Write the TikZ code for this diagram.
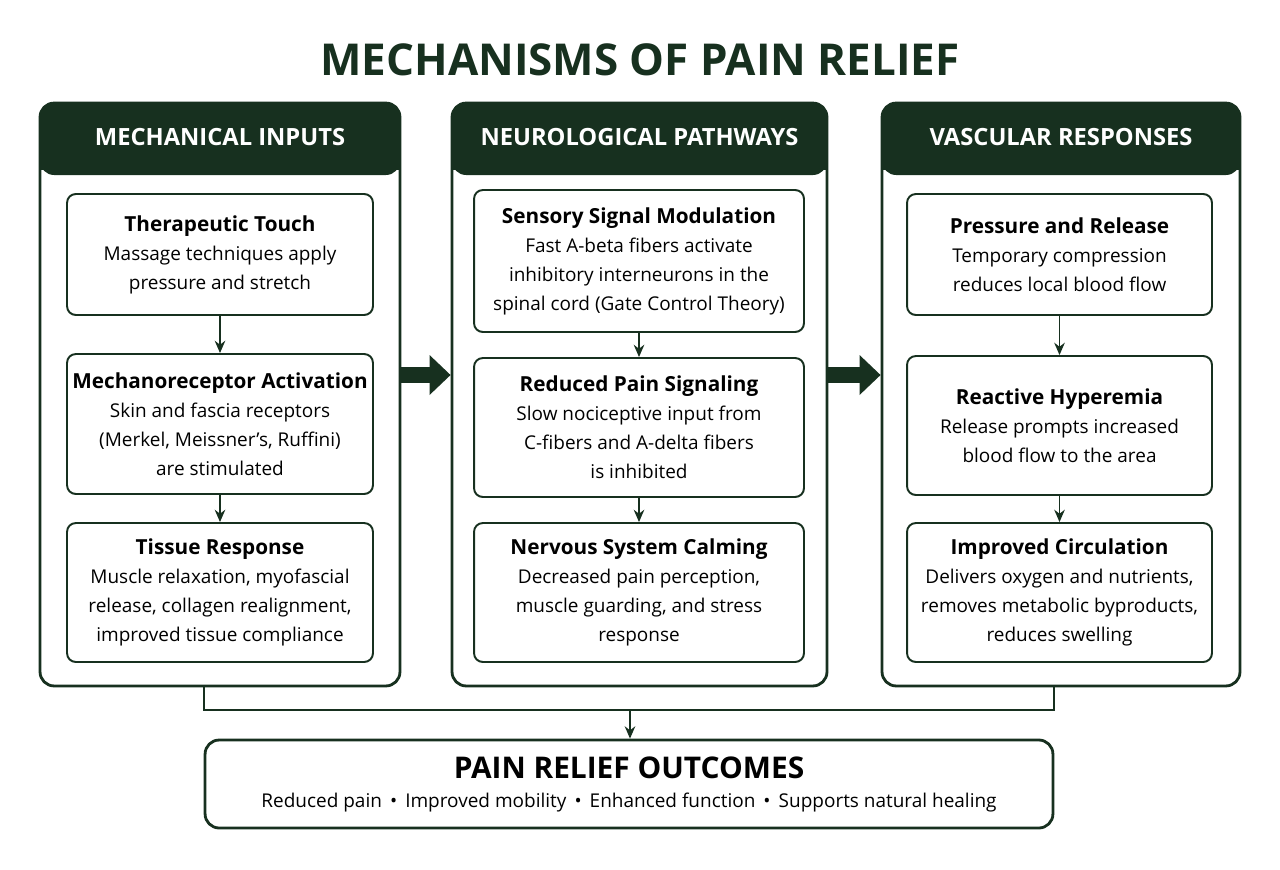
\documentclass[tikz,border=0pt]{standalone}
\usepackage{fontspec}
\setmainfont{Open Sans}
\usetikzlibrary{arrows.meta}
\definecolor{dkgreen}{HTML}{17301F}
\tikzset{
	panel/.style={draw=dkgreen, line width=1.6pt, rounded corners=8pt, inner sep=0pt},
	card/.style={draw=dkgreen, line width=1.1pt, rounded corners=5pt, align=center, font=\fontsize{10.8}{16.5}\selectfont, inner sep=0pt},
	head/.style={text=white, font=\fontsize{13.5}{16}\selectfont\bfseries},
	link/.style={draw=dkgreen, line width=1.1pt, -{Stealth[length=7pt,width=6pt]}},
	bigarrow/.style={draw=dkgreen, line width=9pt, -{Triangle[length=12pt,width=22pt]}}
}
\newcommand{\cardtitle}[1]{{\fontsize{11.8}{18}\selectfont\bfseries #1}\\}
\begin{document}
\begin{tikzpicture}[x=0.02cm, y=-0.02cm]
	\useasboundingbox (0,0) rectangle (1280,869);
	\node (title) at (640,60) [font=\fontsize{25}{28}\selectfont\bfseries, text=dkgreen] {MECHANISMS OF PAIN RELIEF};
	% panels
	\node (p1) at (220,394.5) [panel, minimum width=7.2cm, minimum height=11.66cm] {};
	\node (p2) at (639.5,394.5) [panel, minimum width=7.5cm, minimum height=11.66cm] {};
	\node (p3) at (1061,394.5) [panel, minimum width=7.16cm, minimum height=11.66cm] {};
	\fill[dkgreen, rounded corners=8pt] (40,103) rectangle (400,175);
	\fill[dkgreen] (40,150) rectangle (400,170);
	\fill[dkgreen, rounded corners=8pt] (452,103) rectangle (827,175);
	\fill[dkgreen] (452,150) rectangle (827,170);
	\fill[dkgreen, rounded corners=8pt] (882,103) rectangle (1240,175);
	\fill[dkgreen] (882,150) rectangle (1240,170);
	\node (h1) at (220,137) [head] {MECHANICAL INPUTS};
	\node (h2) at (639.5,137) [head] {NEUROLOGICAL PATHWAYS};
	\node (h3) at (1061,137) [head] {VASCULAR RESPONSES};
	% mechanical inputs
	\node (m1) at (220,254.5) [card, minimum width=6.12cm, minimum height=2.42cm] {\cardtitle{Therapeutic Touch}Massage techniques apply\\pressure and stretch};
	\node (m2) at (220,424) [card, minimum width=6.12cm, minimum height=2.8cm] {\cardtitle{Mechanoreceptor Activation}Skin and fascia receptors\\(Merkel, Meissner’s, Ruffini)\\are stimulated};
	\node (m3) at (220,592.5) [card, minimum width=6.12cm, minimum height=2.78cm] {\cardtitle{Tissue Response}Muscle relaxation, myofascial\\release, collagen realignment,\\improved tissue compliance};
	% neurological pathways
	\node (n1) at (639,261) [card, minimum width=6.6cm, minimum height=2.84cm] {\cardtitle{Sensory Signal Modulation}Fast A-beta fibers activate\\inhibitory interneurons in the\\spinal cord (Gate Control Theory)};
	\node (n2) at (639,427.5) [card, minimum width=6.6cm, minimum height=2.78cm] {\cardtitle{Reduced Pain Signaling}Slow nociceptive input from\\C-fibers and A-delta fibers\\is inhibited};
	\node (n3) at (639,592.5) [card, minimum width=6.6cm, minimum height=2.78cm] {\cardtitle{Nervous System Calming}Decreased pain perception,\\muscle guarding, and stress\\response};
	% vascular responses
	\node (v1) at (1059.5,254.5) [card, minimum width=6.1cm, minimum height=2.42cm] {\cardtitle{Pressure and Release}Temporary compression\\reduces local blood flow};
	\node (v2) at (1059.5,425.5) [card, minimum width=6.1cm, minimum height=2.78cm] {\cardtitle{Reactive Hyperemia}Release prompts increased\\blood flow to the area};
	\node (v3) at (1059.5,592.5) [card, minimum width=6.1cm, minimum height=2.78cm] {\cardtitle{Improved Circulation}Delivers oxygen and nutrients,\\removes metabolic byproducts,\\reduces swelling};
	% outcomes
	\node (out) at (629,784) [card, line width=1.6pt, rounded corners=8pt, minimum width=16.96cm, minimum height=1.76cm] {{\fontsize{17}{24}\selectfont\bfseries PAIN RELIEF OUTCOMES}\\Reduced pain \,•\, Improved mobility \,•\, Enhanced function \,•\, Supports natural healing};
	\coordinate (bus) at (630,710);
	\draw 
	(m1) edge[link] (m2)
	(m2) edge[link] (m3)
	(n1) edge[link] (n2)
	(n2) edge[link] (n3)
	(v1) edge[link] (v2)
	(v2) edge[link] (v3)
	;
	\draw[bigarrow] ([yshift=0.39cm]p1.east) -- ([yshift=0.39cm]p2.west);
	\draw[bigarrow] ([yshift=0.39cm]p2.east) -- ([yshift=0.39cm]p3.west);
	\draw[draw=dkgreen, line width=1.3pt] (p1.south -| out.west) |- (bus) -| (p3.south -| out.east);
	\draw[link] (bus) -- (out.north -| bus);
\end{tikzpicture}
\end{document}
